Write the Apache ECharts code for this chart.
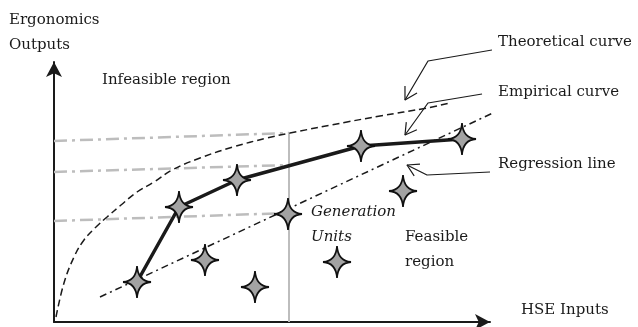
<!DOCTYPE html>
<html><head><meta charset="utf-8">
<script src="https://cdn.jsdelivr.net/npm/echarts@6/dist/echarts.min.js"></script>
<style>html,body{margin:0;padding:0;background:#fff}#c{width:638px;height:327px}</style>
</head><body><div id="c"></div>
<script>
// Values (abstract units, axes 0..100)
const theoreticalCurve = [[0.46,1.92],[2.29,15.0],[4.59,25.0],[6.88,31.54],[9.63,36.54],[12.16,40.38],[15.37,45.0],[19.04,50.0],[22.94,53.85],[27.06,58.46],[33.49,63.08],[41.06,67.31],[48.85,70.77],[54.13,72.69],[67.2,76.92],[74.77,79.23],[85.55,82.31],[90.83,84.23]];
const empiricalCurve = [[19.04,15.38],[28.67,44.23],[41.97,54.62],[70.41,67.69],[93.58,70.38]];
const otherUnits = [[34.63,23.85],[46.1,13.46],[53.67,41.54],[64.91,23.08],[80.05,50.38]];
const regressionLine = [[10.55,9.62],[101.15,80.77]];
const refLevelTop = [[0,69.62],[53.9,72.69]];
const refLevelMid = [[0,57.69],[53.9,60.38]];
const refLevelLow = [[0,38.85],[53.9,41.92]];
const refVertical = [[53.9,0],[53.9,72.69]];
// annotation leaders (same units)
const leaderTheo = [[100.46,104.62],[85.78,100.38],[80.5,85.38]];
const headTheo = [[80.5,90.77],[80.5,85.38],[83.26,88.08]];
const leaderEmp = [[98.17,87.69],[85.78,84.23],[80.5,71.92]];
const headEmp = [[80.8,76.88],[80.5,71.92],[83.23,73.96]];
const leaderReg = [[100,57.69],[85.55,56.54],[80.96,60.38]];
const headReg = [[83.94,60.69],[80.96,60.38],[82.61,56.23]];

const STAR = 'path://M14,0 Q15,15 28,16 Q15,17 14,32 Q13,17 0,16 Q13,15 14,0 Z';
const FONT = '15px "DejaVu Serif"';
const IFONT = 'italic 15px "DejaVu Serif"';
const INK = '#1a1a1a';

function lineS(data, color, width, type, z, extra) {
  return Object.assign({type:'line', data, showSymbol:false, symbol:'none', clip:false, silent:true, z,
    lineStyle:{color, width, type}}, extra||{});
}
const annot = (d) => lineS(d, INK, 1.2, 'solid', 5);

const texts = [
  ['Ergonomics', 9, 20.5, FONT], ['Outputs', 9, 45, FONT],
  ['Infeasible region', 102, 80.5, FONT],
  ['Theoretical curve', 498, 42.5, FONT],
  ['Empirical curve', 498, 92, FONT],
  ['Regression line', 498, 164.5, FONT],
  ['Generation', 311, 212.5, IFONT], ['Units', 311, 237.5, IFONT],
  ['Feasible', 405, 237.5, FONT], ['region', 405, 262.5, FONT],
  ['HSE Inputs', 521, 310.5, FONT]
];

const chart = echarts.init(document.getElementById('c'), null, {renderer:'canvas'});
chart.setOption({
  animation:false,
  grid:{left:54, right:148, top:62, bottom:5},
  xAxis:{type:'value', min:0, max:100, axisLabel:{show:false}, axisTick:{show:false}, splitLine:{show:false},
    axisLine:{show:true, onZero:false, lineStyle:{color:INK, width:2}, symbol:['none','arrow'], symbolSize:[12,15]}},
  yAxis:{type:'value', min:0, max:100, axisLabel:{show:false}, axisTick:{show:false}, splitLine:{show:false},
    axisLine:{show:true, onZero:false, lineStyle:{color:INK, width:2}, symbol:['none','arrow'], symbolSize:[12,15]}},
  graphic: texts.map(t => ({type:'text', silent:true, z:10,
    style:{text:t[0], x:t[1], y:t[2], font:t[3], fill:INK, verticalAlign:'middle', align:'left'}})),
  series:[
    lineS(refLevelTop, '#bdbdbd', 2.5, [13,5,3,5], 1),
    lineS(refLevelMid, '#bdbdbd', 2.5, [13,5,3,5], 1),
    lineS(refLevelLow, '#bdbdbd', 2.5, [13,5,3,5], 1),
    lineS(refVertical, '#bdbdbd', 2, 'solid', 1),
    lineS(theoreticalCurve, INK, 1.5, [7,4], 2, {smooth:0.4}),
    lineS(regressionLine, INK, 1.5, [7,4,2,4], 2),
    {type:'line', data:empiricalCurve, z:3, silent:true, showSymbol:true, symbol:STAR, symbolSize:[28,32],
      lineStyle:{color:INK, width:3.5}, itemStyle:{color:'#a3a3a3', borderColor:'#111', borderWidth:1.8}},
    {type:'scatter', data:otherUnits, z:4, silent:true, symbol:STAR, symbolSize:[28,32],
      itemStyle:{color:'#a3a3a3', borderColor:'#111', borderWidth:1.8, opacity:1}},
    annot(leaderTheo), annot(headTheo),
    annot(leaderEmp), annot(headEmp),
    annot(leaderReg), annot(headReg)
  ]
});
</script>
</body></html>
